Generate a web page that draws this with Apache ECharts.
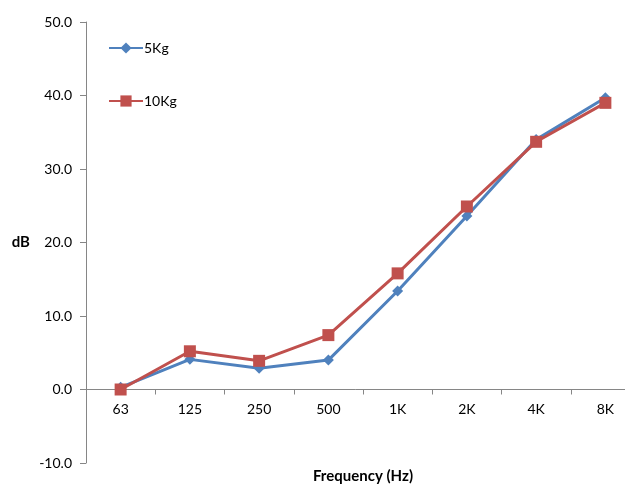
<!DOCTYPE html>
<html>
<head>
<meta charset="utf-8">
<script src="https://cdn.jsdelivr.net/npm/echarts@6/dist/echarts.min.js"></script>
<style>html,body{margin:0;padding:0;background:#fff}#c{width:625px;height:484px}</style>
</head>
<body>
<div id="c"></div>
<script>
var categories = ['63', '125', '250', '500', '1K', '2K', '4K', '8K'];
var kg5 = [0.3, 4.1, 2.9, 4.0, 13.4, 23.6, 34.0, 39.7];
var kg10 = [0.0, 5.2, 3.9, 7.4, 15.8, 24.9, 33.7, 39.0];
var seriesNames = ['5Kg', '10Kg'];

var font = 'Lato, "Open Sans", sans-serif';
var axisColor = '#868686';
var chart = echarts.init(document.getElementById('c'));
chart.setOption({
  animation: false,
  textStyle: { fontFamily: font },
  grid: { left: 86, top: 22, width: 554, bottom: 21, containLabel: false, outerBoundsMode: 'none' },
  legend: {
    orient: 'vertical', left: 103, top: 36, itemGap: 39, itemWidth: 34, itemHeight: 14,
    textStyle: { fontSize: 14, color: '#000', fontFamily: font, padding: [0, 0, 0, -4] },
    data: seriesNames
  },
  xAxis: {
    type: 'category', data: categories, boundaryGap: true, offset: -73.5,
    name: 'Frequency (Hz)', nameLocation: 'middle', nameGap: 79,
    nameTextStyle: { fontWeight: 'bold', fontSize: 15, color: '#000', fontFamily: font },
    axisLine: { onZero: false, lineStyle: { color: axisColor, width: 1 } },
    axisTick: { show: true, inside: false, length: 5, alignWithLabel: false, lineStyle: { color: axisColor } },
    axisLabel: { color: '#000', fontSize: 14, margin: 13, fontFamily: font }
  },
  yAxis: {
    type: 'value', min: -10, max: 50, interval: 10,
    name: 'dB', nameLocation: 'middle', nameGap: 56, nameRotate: 0,
    nameTextStyle: { fontWeight: 'bold', fontSize: 15, color: '#000', fontFamily: font },
    axisLine: { show: true, lineStyle: { color: axisColor, width: 1 } },
    axisTick: { show: true, length: 6, lineStyle: { color: axisColor } },
    splitLine: { show: false },
    axisLabel: { color: '#000', fontSize: 14, margin: 14, fontFamily: font,
      formatter: function (v) { return v.toFixed(1); } }
  },
  series: [
    { name: seriesNames[0], type: 'line', data: kg5, symbol: 'diamond', symbolSize: 11,
      lineStyle: { color: '#4F81BD', width: 3 }, itemStyle: { color: '#4F81BD' }, z: 2 },
    { name: seriesNames[1], type: 'line', data: kg10, symbol: 'rect', symbolSize: 12,
      lineStyle: { color: '#C0504D', width: 3 }, itemStyle: { color: '#C0504D' }, z: 3 }
  ]
});
</script>
</body>
</html>
